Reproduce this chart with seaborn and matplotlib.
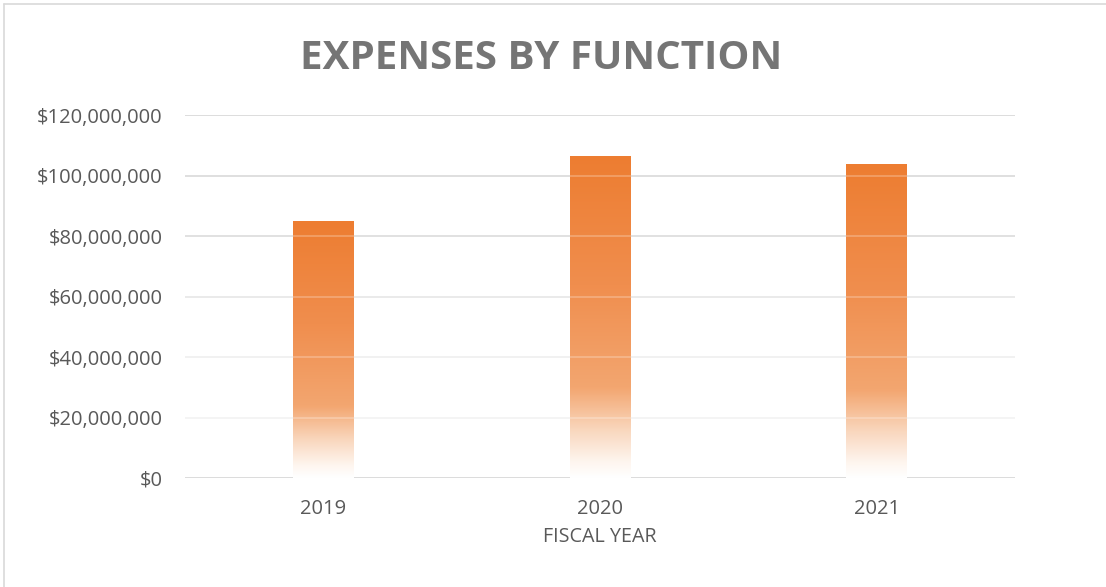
import matplotlib
matplotlib.use("Agg")
import matplotlib.pyplot as plt
import matplotlib.ticker as mticker
from matplotlib.colors import LinearSegmentedColormap
import numpy as np
import pandas as pd
import seaborn as sns

# values
years = ["2019", "2020", "2021"]
expenses = [84_700_000, 106_400_000, 103_500_000]
y_ticks = [0, 20_000_000, 40_000_000, 60_000_000, 80_000_000, 100_000_000, 120_000_000]

sns.set_theme(style="white")
plt.rcParams["font.family"] = ["Open Sans", "DejaVu Sans"]

df = pd.DataFrame({"year": years, "expenses": expenses})

fig = plt.figure(figsize=(11.06, 5.87), dpi=100)
ax = fig.add_axes([0.167, 0.1857, 0.751, 0.6183])

sns.barplot(data=df, x="year", y="expenses", width=0.22, color="#ED7D31", ax=ax, zorder=2)

# orange -> white gradient per bar (bottom is white)
grad = LinearSegmentedColormap.from_list(
    "excel_orange",
    [(0.0, "#FFFFFF"), (0.05, "#FEF5EE"), (0.15, "#F9D6BC"), (0.28, "#F3A670"),
     (0.6, "#F08E4E"), (1.0, "#ED7D31")],
)
g = np.linspace(0, 1, 256).reshape(-1, 1)
for p in ax.patches:
    x0, y0 = p.get_x(), p.get_y()
    w, h = p.get_width(), p.get_height()
    ax.imshow(g, cmap=grad, origin="lower", aspect="auto",
              extent=[x0, x0 + w, y0, y0 + h], zorder=2, interpolation="bicubic")
    p.set_visible(False)

ax.set_xlim(-0.5, 2.5)
ax.set_ylim(0, 120_000_000)
ax.set_yticks(y_ticks)
ax.yaxis.set_major_formatter(mticker.FuncFormatter(lambda v, pos: "${:,.0f}".format(v)))

# gridlines (fade a bit toward the bottom like the source)
grid_cols = ["#D9D9D9", "#F0F0F0", "#ECECEC", "#E3E3E3", "#D6D6D6", "#D2D2D2", "#D0D0D0"]
for v, c in zip(y_ticks, grid_cols):
    ax.axhline(v, color=c, lw=1.3, zorder=1)
    if v > 0:
        ax.axhline(v, color="white", lw=1.3, alpha=0.25, zorder=3)

for s in ax.spines.values():
    s.set_visible(False)

ax.tick_params(axis="both", length=0, labelsize=14.5, labelcolor="#595959")
ax.tick_params(axis="y", pad=16)
ax.tick_params(axis="x", pad=15)
ax.set_xlabel("FISCAL YEAR", fontsize=14.2, color="#595959", labelpad=6)
ax.set_ylabel("")

fig.text(0.489, 0.90, "EXPENSES BY FUNCTION", ha="center", va="center",
         fontsize=29, fontweight="bold", color="#757575")

# chart frame (left/top edges visible in the source)
fig.add_artist(plt.Line2D([0.0035, 0.0035], [0, 0.993], color="#D9D9D9", lw=1.2,
                          transform=fig.transFigure))
fig.add_artist(plt.Line2D([0.0035, 1], [0.993, 0.993], color="#D9D9D9", lw=1.2,
                          transform=fig.transFigure))

fig.savefig("out.png", dpi=100)
